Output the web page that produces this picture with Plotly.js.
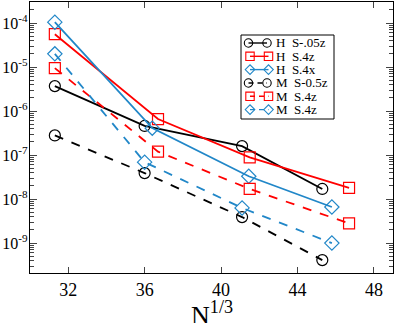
<!DOCTYPE html>
<html>
<head>
<meta charset="utf-8">
<script src="https://cdn.plot.ly/plotly-3.0.1.min.js"></script>
<style>
  body { margin: 0; background: #fff; }
  #chart { width: 395px; height: 323px; }
</style>
</head>
<body>
<div id="chart"></div>
<script>
// series values
const hS05z_x = [31.3, 36.0, 41.1, 45.3];
const hS05z_y = [3.7e-6, 4.6e-7, 1.6e-7, 1.7e-8];

const hS4z_x = [31.3, 36.7, 41.5, 46.7];
const hS4z_y = [5.6e-5, 6.6e-7, 8.9e-8, 1.8e-8];

const hS4x_x = [31.3, 36.4, 41.45, 45.8];
const hS4x_y = [1.05e-4, 4.1e-7, 3.3e-8, 6.6e-9];

const mS05z_x = [31.3, 36.0, 41.1, 45.3];
const mS05z_y = [2.8e-7, 3.9e-8, 3.9e-9, 4.1e-10];

const mS4z_x = [31.3, 36.7, 41.5, 46.7];
const mS4z_y = [9.5e-6, 1.2e-7, 1.7e-8, 2.8e-9];

const mS4zb_x = [31.3, 36.0, 41.1, 45.8];
const mS4zb_y = [2.0e-5, 6.9e-8, 6.3e-9, 1.0e-9];

const names = ["H\u00a0\u00a0S-.05z", "H\u00a0\u00a0S.4z", "H\u00a0\u00a0S.4x",
               "M\u00a0\u00a0S-0.5z", "M\u00a0\u00a0S.4z", "M\u00a0\u00a0S.4z"];
const xTicks = [32, 36, 40, 44, 48];
const yTicks = [1e-9, 1e-8, 1e-7, 1e-6, 1e-5, 1e-4];
const yTickText = ["10<sup>-9</sup>", "10<sup>-8</sup>", "10<sup>-7</sup>",
                   "10<sup>-6</sup>", "10<sup>-5</sup>", "10<sup>-4</sup>"];

// minor ticks 2..9 within every decade
const yMinor = [];
for (let e = -10; e <= -4; e++) {
    for (let m = 2; m <= 9; m++) yMinor.push(m * Math.pow(10, e));
}

const BLUE = "#2187c8";
const RED = "#ff0000";
const serif = "Liberation Serif, Times New Roman, serif";

// style of each series: colour, marker, dash
const styles = [
    ["black", "circle", "solid"],
    [RED, "square", "solid"],
    [BLUE, "diamond", "solid"],
    ["black", "circle", "dash"],
    [RED, "square", "dash"],
    [BLUE, "diamond", "dash"]
];

function trace(x, y, name, style) {
    return {
        x: x,
        y: y,
        name: name,
        mode: "lines+markers",
        showlegend: false,
        line: { color: style[0], width: 1.8, dash: style[2] },
        marker: { symbol: style[1] + "-open", size: 11, color: style[0],
                  line: { color: style[0], width: 1.2 } }
    };
}

const data = [
    trace(hS05z_x, hS05z_y, names[0], styles[0]),
    trace(hS4z_x, hS4z_y, names[1], styles[1]),
    trace(hS4x_x, hS4x_y, names[2], styles[2]),
    trace(mS05z_x, mS05z_y, names[3], styles[3]),
    trace(mS4z_x, mS4z_y, names[4], styles[4]),
    trace(mS4zb_x, mS4zb_y, names[5], styles[5])
];

//--- BEGIN HAND-MADE LEGEND (compact, like the original) ----------------------
// plot area in pixels: left 30, top 2, width 363, height 271
const PW = 363, PH = 271;
const px = (x) => (x - 30) / PW;
const py = (y) => (273 - y) / PH;

const shapes = [];
const annotations = [];

// legend frame
shapes.push({
    type: "rect", xref: "paper", yref: "paper",
    x0: px(241), x1: px(334), y0: py(119), y1: py(35),
    line: { color: "black", width: 1 }, fillcolor: "white"
});

function markerShape(kind, cx, cy, color) {
    const r = 4.2;
    const base = { xref: "paper", yref: "paper", line: { color: color, width: 1.1 },
                   fillcolor: "rgba(0,0,0,0)" };
    if (kind === "circle") {
        return Object.assign({ type: "circle",
            x0: px(cx - r), x1: px(cx + r), y0: py(cy + r), y1: py(cy - r) }, base);
    }
    if (kind === "square") {
        return Object.assign({ type: "rect",
            x0: px(cx - r), x1: px(cx + r), y0: py(cy + r), y1: py(cy - r) }, base);
    }
    // diamond
    const d = 4.8;
    const path = "M" + px(cx - d) + "," + py(cy) +
                 " L" + px(cx) + "," + py(cy - d) +
                 " L" + px(cx + d) + "," + py(cy) +
                 " L" + px(cx) + "," + py(cy + d) + " Z";
    return Object.assign({ type: "path", path: path }, base);
}

const rowY = [43, 56.3, 69.6, 83, 96.3, 109.6];
styles.forEach((st, i) => {
    const cy = rowY[i];
    const xl = st[1] === "circle" ? 248.5 : 250;
    const xr = st[1] === "circle" ? 267 : 268.5;
    shapes.push({
        type: "line", xref: "paper", yref: "paper",
        x0: px(xl), x1: px(xr), y0: py(cy), y1: py(cy),
        line: { color: st[0], width: 1.4, dash: st[2] === "dash" ? "5px,4px" : "solid" }
    });
    shapes.push(markerShape(st[1], xl, cy, st[0]));
    shapes.push(markerShape(st[1], xr, cy, st[0]));
    annotations.push({
        xref: "paper", yref: "paper",
        x: px(274), y: py(cy), xanchor: "left", yanchor: "middle",
        text: names[i], showarrow: false, height: 13,
        font: { family: serif, size: 13, color: "black" }
    });
});

// x axis title, placed low like the original
annotations.push({
    xref: "paper", yref: "paper",
    x: px(212), y: py(313), xanchor: "center", yanchor: "middle",
    text: "N<sup>1/3</sup>", showarrow: false,
    font: { family: serif, size: 26, color: "black" }
});
//--- END HAND-MADE LEGEND ----------------------------------------------------

const layout = {
    width: 395,
    height: 323,
    margin: { l: 30, r: 2, t: 2, b: 50 },
    paper_bgcolor: "white",
    plot_bgcolor: "white",
    font: { family: serif, size: 16, color: "black" },
    showlegend: false,
    shapes: shapes,
    annotations: annotations,
    xaxis: {
        range: [30, 49],
        tickvals: xTicks,
        ticks: "inside", ticklen: 6,
        mirror: "ticks",
        showline: true, linecolor: "black", linewidth: 1.2,
        showgrid: false, zeroline: false,
        tickfont: { family: serif, size: 18 }
    },
    yaxis: {
        type: "log",
        range: [-9.68, -3.52],
        tickmode: "array",
        tickvals: yTicks,
        ticktext: yTickText,
        ticks: "inside", ticklen: 7,
        ticklabelstandoff: -2,
        minor: { tickmode: "array", tickvals: yMinor, ticks: "inside", ticklen: 4, showgrid: false },
        mirror: "ticks",
        showline: true, linecolor: "black", linewidth: 1.2,
        showgrid: false, zeroline: false,
        tickfont: { family: serif, size: 16 }
    }
};

Plotly.newPlot("chart", data, layout, { staticPlot: true });
</script>
</body>
</html>
